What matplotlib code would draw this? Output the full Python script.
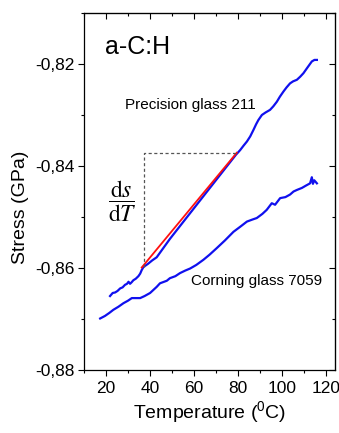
import matplotlib
matplotlib.use("Agg")
import matplotlib.pyplot as plt
from matplotlib.ticker import MultipleLocator, FuncFormatter, NullFormatter

plt.rcParams["font.family"] = ["Liberation Sans", "DejaVu Sans"]
plt.rcParams["mathtext.fontset"] = "stix"
plt.rcParams["axes.unicode_minus"] = False

# Precision glass 211: temperature (°C) and film stress (GPa)
precision_T = [21.8, 23.0, 24.1, 25.2, 26.4, 27.5, 28.6, 29.5, 30.2, 30.9, 31.6,
               32.4, 33.5, 34.7, 35.5, 36.2, 37.0, 39.0, 41.0, 43.0, 45.0, 47.0,
               49.0, 51.0, 53.0, 55.0, 57.0, 59.0, 61.0, 63.0, 65.0, 67.0, 69.0,
               71.0, 73.0, 75.0, 77.0, 79.0, 80.9, 82.5, 84.0, 85.5, 87.0, 88.2,
               89.2, 90.8, 92.5, 94.5, 96.0, 97.6, 99.0, 100.6, 102.0, 103.6,
               105.0, 106.7, 108.2, 109.7, 111.5, 113.5, 114.7, 115.8]
precision_s = [-0.8655, -0.8649, -0.8648, -0.8645, -0.8640, -0.8638, -0.8633,
               -0.8631, -0.8627, -0.8631, -0.8628, -0.8624, -0.8621, -0.8616,
               -0.8611, -0.8604, -0.8598, -0.8592, -0.8585, -0.8579, -0.8567,
               -0.8555, -0.8543, -0.8532, -0.8521, -0.8510, -0.8499, -0.8488,
               -0.8477, -0.8466, -0.8455, -0.8444, -0.8433, -0.8422, -0.8411,
               -0.8400, -0.8389, -0.8378, -0.8369, -0.8360, -0.8352, -0.8342,
               -0.8329, -0.8318, -0.8310, -0.8300, -0.8295, -0.8290, -0.8283,
               -0.8274, -0.8264, -0.8254, -0.8246, -0.8238, -0.8234, -0.8231,
               -0.8225, -0.8218, -0.8207, -0.8195, -0.8192, -0.8192]

# Corning glass 7059
corning_T = [17.3, 19.5, 21.5, 23.3, 25.6, 27.9, 30.0, 31.7, 33.9, 35.5, 37.5,
             40.0, 43.0, 44.5, 47.6, 49.0, 51.5, 53.6, 56.0, 58.2, 61.0, 64.2,
             67.0, 70.3, 74.0, 77.9, 81.0, 84.0, 86.5, 88.5, 91.0, 93.0, 95.3,
             96.8, 99.1, 101.5, 103.6, 105.2, 106.7, 109.0, 111.0, 112.7, 113.5,
             114.0, 114.6, 115.8]
corning_s = [-0.8699, -0.8694, -0.8688, -0.8682, -0.8676, -0.8669, -0.8664,
             -0.8659, -0.8659, -0.8659, -0.8655, -0.8649, -0.8637, -0.8630,
             -0.8625, -0.8620, -0.8616, -0.8610, -0.8605, -0.8601, -0.8594,
             -0.8584, -0.8574, -0.8561, -0.8546, -0.8529, -0.8519, -0.8509,
             -0.8505, -0.8502, -0.8494, -0.8486, -0.8473, -0.8476, -0.8463,
             -0.8461, -0.8456, -0.8450, -0.8447, -0.8443, -0.8438, -0.8434,
             -0.8422, -0.8435, -0.8428, -0.8434]

# Linear fit segment (slope ds/dT) and its construction lines
fit_T = [36.2, 79.4]
fit_s = [-0.8599, -0.8374]

x_ticks = [20, 40, 60, 80, 100, 120]
y_ticks = [-0.88, -0.86, -0.84, -0.82]

blue = "#1010ee"

fig = plt.figure(figsize=(3.39, 4.33), dpi=100)
ax = fig.add_axes([0.248, 0.1455, 0.740, 0.8245])

ax.plot(precision_T, precision_s, color=blue, lw=1.6, solid_joinstyle="round")
ax.plot(corning_T, corning_s, color=blue, lw=1.6, solid_joinstyle="round")
ax.plot(fit_T, fit_s, color="#ff1010", lw=1.3)

# right-angle construction for the slope
ax.plot([fit_T[0] + 1.0, fit_T[0] + 1.0, fit_T[1]],
        [fit_s[0], fit_s[1], fit_s[1]],
        color="#555555", lw=0.9, ls=(0, (2.5, 2)))

ax.set_xlim(10, 124)
ax.set_ylim(-0.88, -0.81)

ax.set_xticks(x_ticks)
ax.set_yticks(y_ticks)
ax.xaxis.set_minor_locator(MultipleLocator(10))
ax.yaxis.set_minor_locator(MultipleLocator(0.01))
ax.yaxis.set_major_formatter(FuncFormatter(lambda v, p: f"{v:.2f}".replace(".", ",")))
ax.tick_params(which="both", direction="out", top=False, right=False,
               width=0.8, labelsize=12.5, colors="black")
ax.tick_params(which="major", length=4)
ax.tick_params(which="minor", length=2.5)
ax.tick_params(axis="y", pad=3)
ax.tick_params(axis="x", pad=4)

# inward ticks on the top and right edges
top = ax.secondary_xaxis("top")
top.set_xticks(x_ticks)
top.xaxis.set_minor_locator(MultipleLocator(10))
top.xaxis.set_major_formatter(NullFormatter())
top.tick_params(which="both", direction="in", width=0.8)
top.tick_params(which="major", length=4)
top.tick_params(which="minor", length=2.5)

right = ax.secondary_yaxis("right")
right.set_yticks(y_ticks)
right.yaxis.set_minor_locator(MultipleLocator(0.01))
right.yaxis.set_major_formatter(NullFormatter())
right.tick_params(which="both", direction="in", width=0.8)
right.tick_params(which="major", length=4)
right.tick_params(which="minor", length=2.5)

for sp in ax.spines.values():
    sp.set_linewidth(0.9)

ax.set_ylabel("Stress (GPa)", fontsize=14)
ax.set_xlabel(r"Temperature ($\mathregular{^{0}}$C)", fontsize=14)
ax.yaxis.set_label_coords(-0.255, 0.457)
ax.xaxis.set_label_coords(0.502, -0.118)
ax.xaxis.label.set_va("center")
ax.yaxis.label.set_va("center")

ax.text(19.5, -0.8167, "a-C:H", fontsize=18, va="center", ha="left")
ax.text(28.6, -0.8280, "Precision glass 211", fontsize=11, va="center", ha="left")
ax.text(58.6, -0.8625, "Corning glass 7059", fontsize=11, va="center", ha="left")
ax.text(27.3, -0.8470, r"$\dfrac{\mathrm{d}s}{\mathrm{d}T}$", fontsize=17,
        va="center", ha="center")

fig.savefig("out.png", dpi=100)
